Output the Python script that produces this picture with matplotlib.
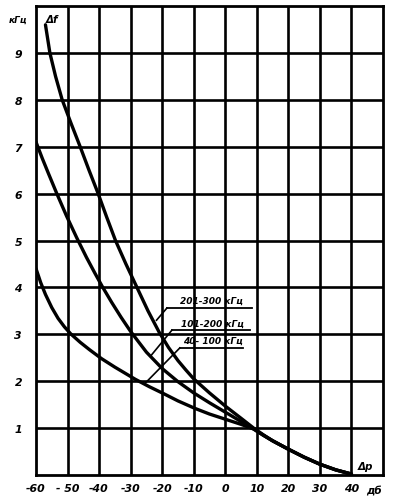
import matplotlib
matplotlib.use("Agg")
import matplotlib.pyplot as plt

# Data
x_ticks = [-60, -50, -40, -30, -20, -10, 0, 10, 20, 30, 40]
x_tick_labels = ["-60", "- 50", "-40", "-30", "-20", "-10", "0", "10", "20", "30", "40"]
y_ticks = [1, 2, 3, 4, 5, 6, 7, 8, 9]
y_tick_labels = ["1", "2", "3", "4", "5", "6", "7", "8", "9"]

# 201-300 кГц
hi_dp = [-57.0, -55.6, -53.8, -51.7, -48.9, -46.0, -43.2, -40.3, -37.6, -34.8, -31.5, -28.0,
         -24.5, -21.0, -18.0, -15.0, -12.5, -10.0, -5.0, 0.0, 5.0, 9.0, 12.0, 15.0, 20.0,
         25.0, 30.0, 35.0, 40.0]
hi_df = [9.6, 9.0, 8.5, 8.0, 7.5, 7.0, 6.5, 6.0, 5.5, 5.0, 4.5, 4.0,
         3.5, 3.05, 2.72, 2.44, 2.24, 2.05, 1.75, 1.47, 1.21, 1.0, 0.86, 0.73, 0.55,
         0.38, 0.23, 0.11, 0.02]
# 101-200 кГц
mid_dp = [-60.0, -58.0, -56.0, -53.4, -50.3, -47.1, -44.0, -41.3, -39.0, -36.0, -33.0, -30.0,
          -25.0, -20.0, -15.0, -10.0, -5.0, 0.0, 5.0, 9.0, 12.0, 15.0, 20.0, 25.0, 30.0,
          35.0, 40.0]
mid_df = [7.1, 6.75, 6.42, 6.0, 5.52, 5.06, 4.64, 4.3, 4.02, 3.68, 3.36, 3.06,
          2.62, 2.27, 1.99, 1.75, 1.54, 1.34, 1.14, 0.98, 0.85, 0.73, 0.55, 0.38, 0.23,
          0.11, 0.02]
# 40-100 кГц
lo_dp = [-60.0, -58.5, -57.0, -55.0, -53.0, -51.0, -49.0, -46.0, -43.0, -39.2, -35.0, -31.0,
         -28.5, -24.0, -19.7, -15.0, -9.6, -5.0, 0.0, 5.0, 9.0, 12.0, 15.0, 20.0, 25.0,
         30.0, 35.0, 40.0]
lo_df = [4.4, 4.1, 3.85, 3.57, 3.34, 3.16, 3.01, 2.83, 2.67, 2.48, 2.3, 2.14,
         2.04, 1.88, 1.74, 1.58, 1.42, 1.3, 1.19, 1.08, 0.98, 0.85, 0.73, 0.55, 0.38,
         0.23, 0.11, 0.02]

series_labels = ["201-300 кГц", "101-200 кГц", "40- 100 кГц"]

fig = plt.figure(figsize=(3.97, 5.02), dpi=100)
ax = fig.add_axes([0.0907, 0.0518, 0.8740, 0.9342])
ax.set_xlim(-60, 50)
ax.set_ylim(0, 10)

# grid
for gx in range(-50, 50, 10):
    ax.axvline(gx, color="black", lw=1.9, zorder=1)
for gy in range(1, 10):
    ax.axhline(gy, color="black", lw=1.9, zorder=1)
for s in ax.spines.values():
    s.set_linewidth(2.0)
    s.set_color("black")

lw = 2.4
for xs, ys in [(hi_dp, hi_df), (mid_dp, mid_df), (lo_dp, lo_df)]:
    ax.plot(xs, ys, color="black", lw=lw, solid_capstyle="round",
            solid_joinstyle="round", zorder=3)

fkw = dict(fontstyle="italic", fontweight="bold", color="black")

ax.set_xticks(x_ticks)
ax.set_xticklabels(x_tick_labels, fontsize=7.8, **fkw)
ax.set_yticks(y_ticks)
ax.set_yticklabels(y_tick_labels, fontsize=7.8, **fkw)
ax.tick_params(length=0, pad=6)
ax.tick_params(axis="y", pad=10)

# unit labels
ax.text(-65.6, 9.72, "кГц", fontsize=6.5, ha="center", va="center", clip_on=False, **fkw)
ax.text(-54.8, 9.72, "Δf", fontsize=7.5, ha="center", va="center", **fkw)
ax.text(44.3, 0.2, "Δp", fontsize=7.5, ha="center", va="center", **fkw)
ax.text(47.2, -0.34, "дб", fontsize=7.5, ha="center", va="center", clip_on=False, **fkw)

# series labels with underline and leader lines
lab_x = [-18.5, -16.9, -14.4]
lab_x2 = [8.5, 7.8, 5.6]
lab_y = [3.56, 3.09, 2.71]
lead_to = [(-21.8, 3.3), (-23.5, 2.55), (-25.5, 1.95)]
for lbl, x1, x2, y, (tx, ty) in zip(series_labels, lab_x, lab_x2, lab_y, lead_to):
    ax.plot([x1, x2], [y, y], color="black", lw=1.3, zorder=4)
    ax.plot([x1, tx], [y, ty], color="black", lw=1.2, zorder=4)
    ax.text((x1 + x2) / 2 + 0.5, y + 0.06, lbl, fontsize=6.5, ha="center", va="bottom", zorder=5, **fkw)

fig.savefig("out.png", dpi=100)
